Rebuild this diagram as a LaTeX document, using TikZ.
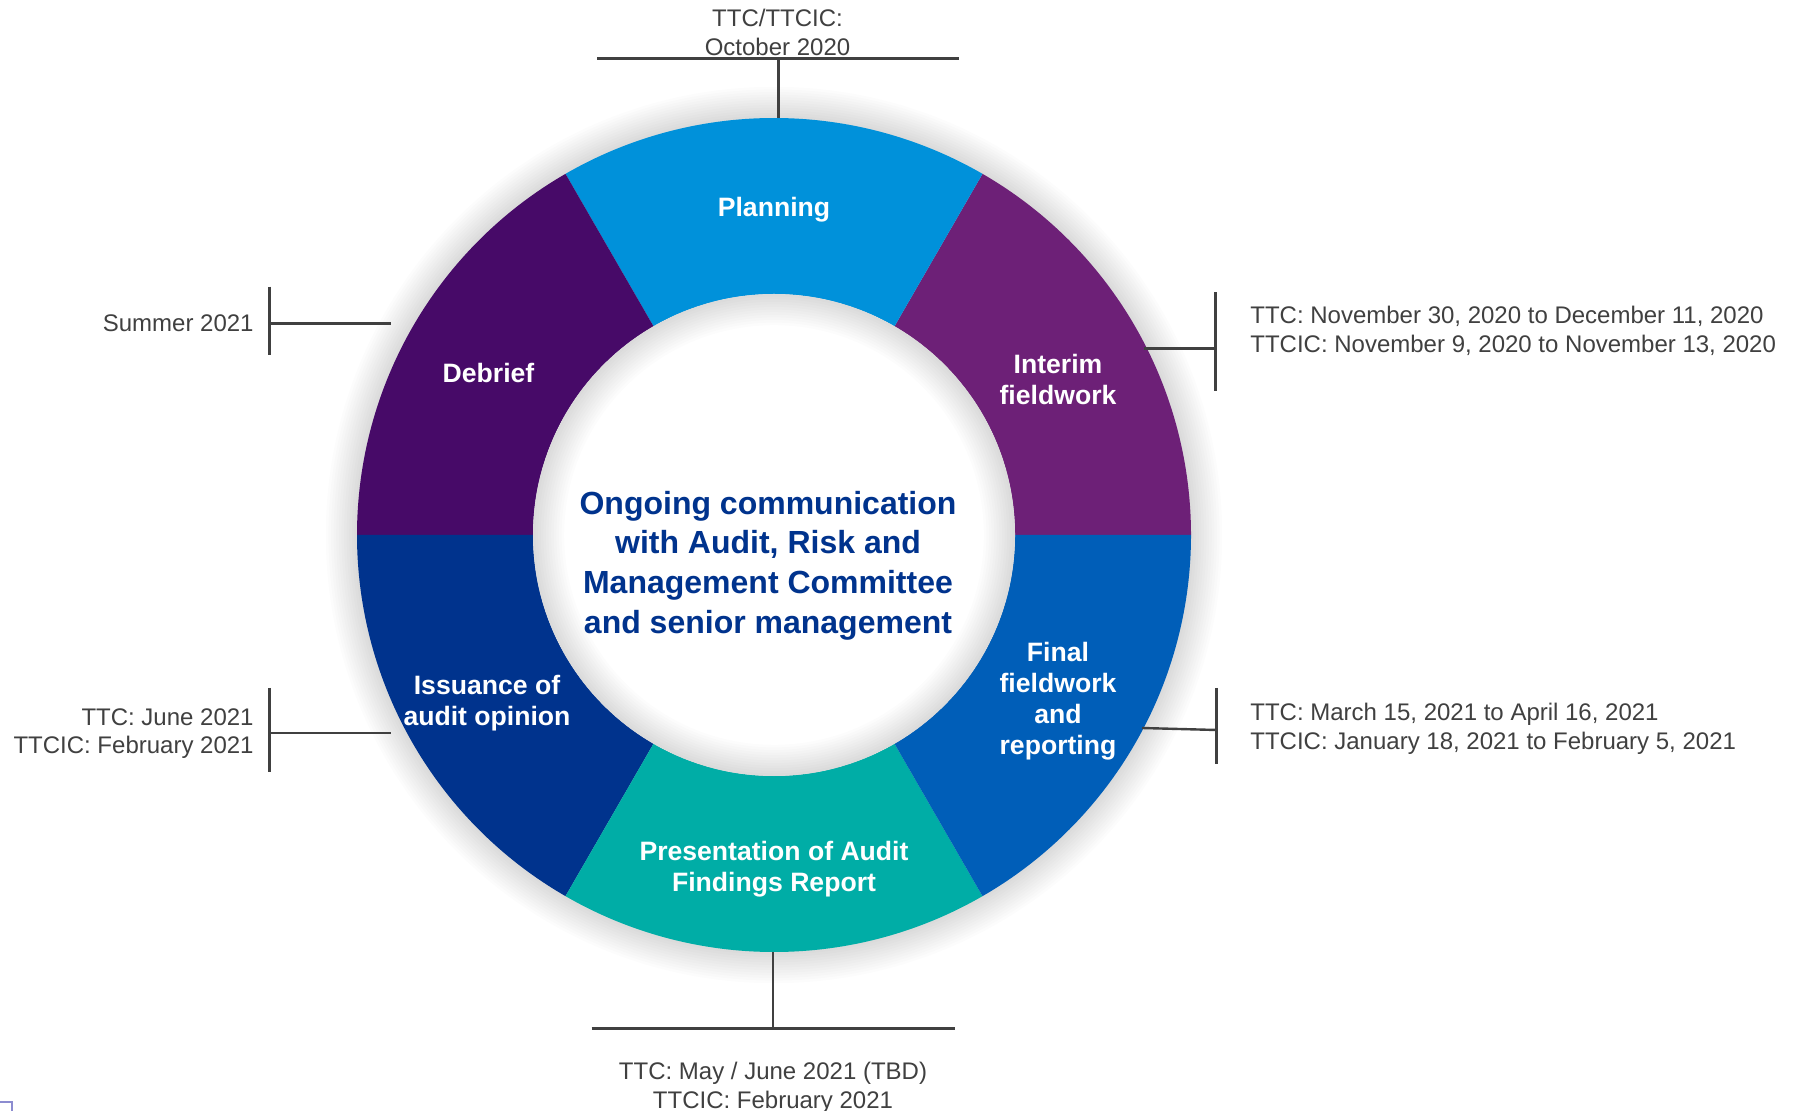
\documentclass[tikz,border=0pt]{standalone}
\usepackage{fontspec}
\setmainfont{Liberation Sans}
\definecolor{cPlan}{HTML}{0091DA}
\definecolor{cInterim}{HTML}{6D2077}
\definecolor{cFinal}{HTML}{005EB8}
\definecolor{cPres}{HTML}{00ADA6}
\definecolor{cIssue}{HTML}{00338D}
\definecolor{cDebrief}{HTML}{470A68}
\definecolor{cCenter}{HTML}{00338D}
\definecolor{cGray}{HTML}{404040}
\definecolor{cMark}{HTML}{8C8CD0}
\tikzset{
  seglabel/.style={text=white, font=\bfseries\fontsize{13.3}{15.5}\selectfont, align=center, inner sep=0pt},
  datetext/.style={text=cGray, font=\fontsize{12}{14.35}\selectfont, inner sep=0pt},
  bracket/.style={draw=cGray, line width=1.2pt},
}
\begin{document}
\begin{tikzpicture}[x=0.5pt,y=-0.5pt]
\useasboundingbox[fill=white] (0,0) rectangle (1798,1111);
\coordinate (ctr) at (774,535);
% donut
\begin{scope}[shift={(774,535)}, y=0.5pt]
  \foreach \k in {1,...,12}
    \fill[black,opacity=0.012] (0,0) circle[radius=417+2.6*\k];
  \foreach \a/\c in {0/cInterim, 60/cPlan, 120/cDebrief, 180/cIssue, 240/cPres, 300/cFinal}{
    \fill[\c] (\a:417) arc[start angle=\a, end angle=\a+60, radius=417]
      -- (\a+60:241) arc[start angle=\a+60, end angle=\a, radius=241] -- cycle;
  }
  \fill[white] (0,0) circle[radius=241];
  \foreach \k in {1,...,12}
    \fill[black,opacity=0.012,even odd rule] (0,0) circle[radius=241] (0,0) circle[radius=241-2.6*\k];
\end{scope}

% segment labels
\node[seglabel] (planning) at (774,209.5) {Planning};
\node[seglabel] (interim) at (1058,379) {Interim\\fieldwork};
\node[seglabel] (final) at (1058,701) {Final\\fieldwork\\and\\reporting};
\node[seglabel] (pres) at (774,869) {Presentation of Audit\\Findings Report};
\node[seglabel] (issue) at (487,703) {Issuance of\\audit opinion};
\node[seglabel] (debrief) at (488.5,373) {Debrief};

% centre text
\node[text=cCenter, font=\bfseries\fontsize{16}{19.9}\selectfont, align=center, inner sep=0pt] (centre) at (768,565.5)
  {Ongoing communication\\with Audit, Risk and\\Management Committee\\and senior management};

% top bracket
\coordinate (tL) at (597,58.5);
\coordinate (tR) at (958.6,58.5);
\coordinate (tJ) at (778.6,58.5);
\coordinate (tRing) at (778.6,118);
\draw[bracket] (tL) -- (tR);
\draw[bracket] (tJ) -- (tRing);
\node[datetext, align=center] (tText) at (777.5,32.5) {TTC/TTCIC:\\October 2020};

% bottom bracket
\coordinate (bL) at (591.7,1028.6);
\coordinate (bR) at (955,1028.6);
\coordinate (bJ) at (773,1028.6);
\coordinate (bRing) at (773,952);
\draw[bracket] (bL) -- (bR);
\draw[bracket] (bJ) -- (bRing);
\node[datetext, align=center] (bText) at (773,1087.5) {TTC: May / June 2021 (TBD)\\TTCIC: February 2021};

% left top bracket (Debrief)
\coordinate (ltT) at (269.5,286.7);
\coordinate (ltB) at (269.5,355.5);
\coordinate (ltJ) at (269.5,323.4);
\coordinate (ltRing) at (391,323.4);
\draw[bracket] (ltT) -- (ltB);
\draw[bracket] (ltJ) -- (ltRing);
\node[datetext, anchor=east, align=right] (ltText) at (254,323) {Summer 2021};

% left bottom bracket (Issuance)
\coordinate (lbT) at (269.5,688);
\coordinate (lbB) at (269.5,771.7);
\coordinate (lbJ) at (269.5,732.7);
\coordinate (lbRing) at (391,732.7);
\draw[bracket] (lbT) -- (lbB);
\draw[bracket] (lbJ) -- (lbRing);
\node[datetext, anchor=east, align=right] (lbText) at (254,733.5) {TTC: June 2021\\TTCIC: February 2021};

% right top bracket (Interim)
\coordinate (rtT) at (1215.5,292.4);
\coordinate (rtB) at (1215.5,391);
\coordinate (rtJ) at (1215.5,348.6);
\coordinate (rtRing) at (1144,348.6);
\draw[bracket] (rtT) -- (rtB);
\draw[bracket] (rtJ) -- (rtRing);
\node[datetext, anchor=west, align=left] (rtText) at (1250,331) {TTC: November 30, 2020 to December 11, 2020\\TTCIC: November 9, 2020 to November 13, 2020};

% right bottom bracket (Final)
\coordinate (rbT) at (1216.6,688);
\coordinate (rbB) at (1216.6,763.7);
\coordinate (rbJ) at (1216.6,730);
\coordinate (rbRing) at (1142,728);
\draw[bracket] (rbT) -- (rbB);
\draw[bracket] (rbJ) -- (rbRing);
\node[datetext, anchor=west, align=left] (rbText) at (1250,728.5) {TTC: March 15, 2021 to April 16, 2021\\TTCIC: January 18, 2021 to February 5, 2021};

% corner mark
\coordinate (mA) at (0,1102);
\coordinate (mB) at (12,1102);
\coordinate (mC) at (12,1111);
\draw[cMark, line width=1pt] (mA) -- (mB) -- (mC);
\end{tikzpicture}
\end{document}
